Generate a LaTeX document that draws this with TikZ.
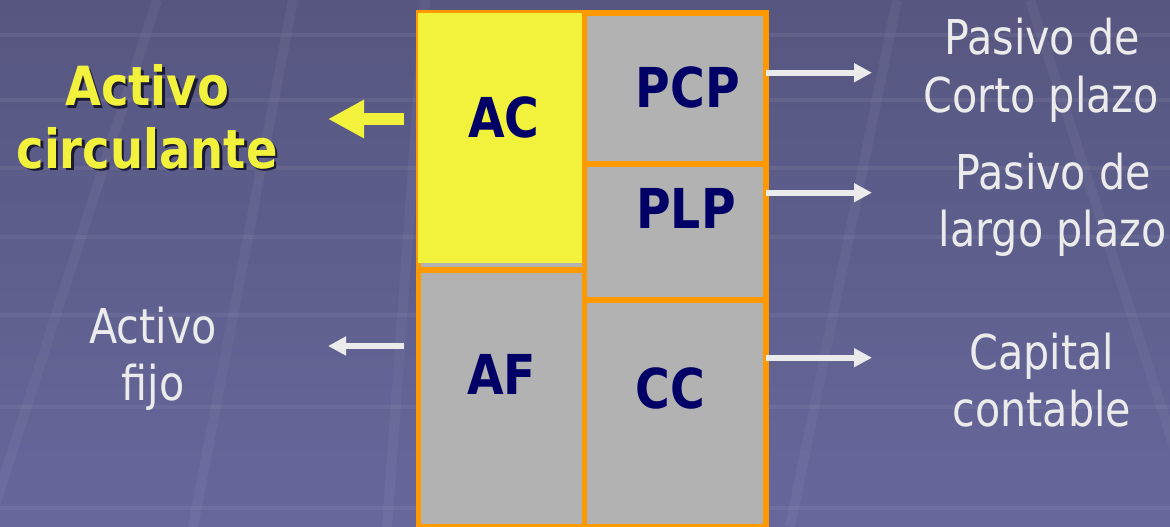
\documentclass[tikz,border=0pt]{standalone}
\usepackage{fontspec}
\setmainfont{DejaVu Sans}[FakeStretch=0.86]
\usetikzlibrary{arrows.meta}
\definecolor{bgtop}{HTML}{565680}
\definecolor{bgbot}{HTML}{67679C}
\definecolor{orng}{HTML}{FF9900}
\definecolor{cellgray}{HTML}{B2B2B2}
\definecolor{navy}{HTML}{000066}
\definecolor{yel}{HTML}{F2F23C}
\definecolor{lite}{HTML}{EBEBEB}
\definecolor{shadowc}{HTML}{1A1A33}
\newcommand{\shadowtext}[1]{\makebox[0pt][l]{\hspace{2.5pt}\raisebox{-2.5pt}{\textcolor{shadowc}{#1}}}#1}
\begin{document}
\begin{tikzpicture}[x=1pt,y=-1pt,
  cell/.style={draw=orng, fill=cellgray, line width=5.5pt, rectangle, inner sep=0pt, outer sep=0pt},
  abbr/.style={text=navy, font=\fontsize{55}{60}\selectfont\bfseries, anchor=base, inner sep=0pt},
  lbl/.style={text=lite, font=\fontsize{48}{56}\selectfont, anchor=base, inner sep=0pt},
  ylbl/.style={text=yel, font=\fontsize{54}{60}\selectfont\bfseries, anchor=base, inner sep=0pt},
  warrow/.style={draw=lite, line width=6pt, -{Triangle[length=18pt,width=18pt]}},
  yarrow/.style={draw=yel, line width=12pt, -{Triangle[length=36pt,width=36pt]}},
  hband/.style={draw=white, opacity=0.055, line width=4pt},
  sband/.style={draw=white, opacity=0.045, line width=10pt}
]
\useasboundingbox (0,0) rectangle (1170,527);
% background
\shade[top color=bgtop, bottom color=bgbot] (0,0) rectangle (1170,527);
\foreach \yy in {35,100,168,237,315,407,508}
  \draw[hband] (0,\yy) -- (1170,\yy);
\draw[sband] (157,0) -- (-12,527);
\draw[sband] (293,0) -- (193,527);
\draw[sband] (425,0) -- (387,527);
\draw[sband] (897,0) -- (790,527);
\draw[sband] (1030,0) -- (1200,527);

% cells
\node[cell, minimum width=166.1pt, minimum height=257pt] (af) at (501.55,398.5) {};
\node[cell, minimum width=166.1pt, minimum height=257pt] (ac) at (501.55,141.5) {};
\fill[yel] (418.3,13.3) rectangle (581.7,263.3);
\node[cell, minimum width=181.4pt, minimum height=151pt] (pcp) at (675.3,88.5) {};
\node[cell, minimum width=181.4pt, minimum height=136pt] (plp) at (675.3,232) {};
\node[cell, minimum width=181.4pt, minimum height=227pt] (cc) at (675.3,413.5) {};

% cell labels
\node[abbr] (tac) at (504,137) {AC};
\node[abbr] (tpcp) at (688,107) {PCP};
\node[abbr] (tplp) at (686,228) {PLP};
\node[abbr] (taf) at (501.5,394) {AF};
\node[abbr] (tcc) at (670.5,408) {CC};

% left labels
\node[ylbl] (lac1) at (147,106) {\shadowtext{Activo}};
\node[ylbl] (lac2) at (147,168) {\shadowtext{circulante}};
\node[lbl] (laf1) at (153,343) {Activo};
\node[lbl] (laf2) at (153,400.7) {fijo};

% right labels
\node[lbl] (lpcp1) at (1042,55) {Pasivo de};
\node[lbl] (lpcp2) at (1041,112) {Corto plazo};
\node[lbl] (lplp1) at (1053,189.3) {Pasivo de};
\node[lbl] (lplp2) at (1052.5,246.7) {largo plazo};
\node[lbl] (lcc1) at (1041.7,369.3) {Capital};
\node[lbl] (lcc2) at (1041.7,426.7) {contable};

% arrows
\coordinate (yaS) at (404,119);
\coordinate (yaE) at (328,119);
\coordinate (waS) at (404,346);
\coordinate (waE) at (328,346);
\coordinate (r1E) at (872,72.7);
\coordinate (r2E) at (872,192.7);
\coordinate (r3E) at (872,357.7);
\draw[yarrow] (yaS) -- (yaE);
\draw[warrow] (waS) -- (waE);
\draw[warrow] (pcp.east |- r1E) -- (r1E);
\draw[warrow] (plp.east |- r2E) -- (r2E);
\draw[warrow] (cc.east |- r3E) -- (r3E);
\end{tikzpicture}
\end{document}
